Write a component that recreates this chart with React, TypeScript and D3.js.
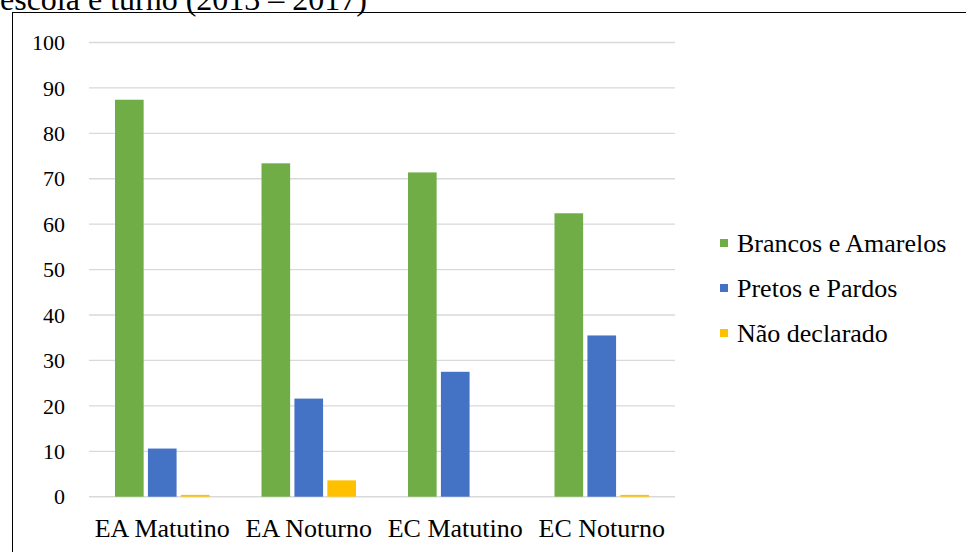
import React from "react";
import * as d3 from "d3";

const categories = ["EA Matutino", "EA Noturno", "EC Matutino", "EC Noturno"];
const seriesNames = ["Brancos e Amarelos", "Pretos e Pardos", "Não declarado"];
const brancos = [87.4, 73.4, 71.4, 62.4];
const pretos = [10.6, 21.6, 27.5, 35.5];
const naoDeclarado = [0.4, 3.6, 0, 0.4];
const colors = ["#70AD47", "#4472C4", "#FFC000"];
const yTicks = [0, 10, 20, 30, 40, 50, 60, 70, 80, 90, 100];
const titleText = "escola e turno (2013 – 2017)";

const W = 966;
const H = 552;
const FONT = "'Liberation Serif', 'Times New Roman', serif";

export default function App() {
  const series = [brancos, pretos, naoDeclarado];
  const x0 = d3.scaleBand<string>().domain(categories).range([89, 675]).paddingInner(0).paddingOuter(0);
  const inner = d3
    .scaleBand<number>()
    .domain([0, 1, 2])
    .range([26, x0.bandwidth() - 26])
    .paddingInner(0.13);
  const y = d3.scaleLinear().domain([0, 100]).range([496.7, 42.5]);

  return (
    <svg
      width={W}
      height={H}
      style={{ position: "absolute", left: 0, top: 0, background: "#fff" }}
      fontFamily={FONT}
    >
      <text x={0} y={10} fontSize={32} fill="#000">
        {titleText}
      </text>
      <rect x={12.5} y={12.5} width={970} height={560} fill="none" stroke="#000" strokeWidth={1} />

      {yTicks.map((t) => (
        <g key={t}>
          <line
            x1={89}
            x2={675}
            y1={y(t)}
            y2={y(t)}
            stroke="#d9d9d9"
            strokeWidth={t === 0 ? 1.5 : 1.3}
          />
          <text x={65} y={y(t)} dy="0.35em" textAnchor="end" fontSize={22} fill="#000">
            {t}
          </text>
        </g>
      ))}

      {categories.map((c, i) => (
        <g key={c} transform={`translate(${x0(c)},0)`}>
          {series.map((s, k) => {
            const v = s[i];
            if (v <= 0) return null;
            return (
              <rect
                key={k}
                x={inner(k)}
                y={y(v)}
                width={inner.bandwidth()}
                height={y(0) - y(v)}
                fill={colors[k]}
              />
            );
          })}
          <text
            x={x0.bandwidth() / 2}
            y={537}
            textAnchor="middle"
            fontSize={26}
            fill="#000"
          >
            {c}
          </text>
        </g>
      ))}

      {seriesNames.map((n, k) => (
        <g key={n} transform={`translate(720,${243 + k * 45})`}>
          <rect x={0} y={-4} width={8} height={8} fill={colors[k]} />
          <text x={17} y={0} dy="0.35em" fontSize={26} fill="#000">
            {n}
          </text>
        </g>
      ))}
    </svg>
  );
}
